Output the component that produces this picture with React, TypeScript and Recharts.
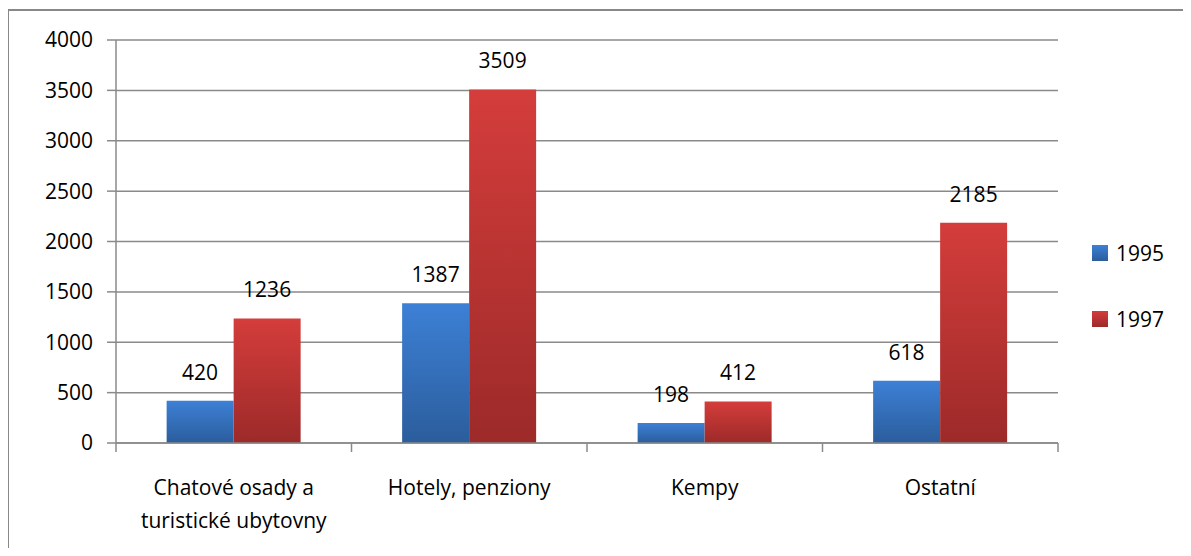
import { BarChart, Bar, XAxis, YAxis, CartesianGrid, Legend, LabelList } from "recharts";

const categories = ["Chatové osady a\nturistické ubytovny", "Hotely, penziony", "Kempy", "Ostatní"];
const values1995 = [420, 1387, 198, 618];
const values1997 = [1236, 3509, 412, 2185];
const yTicks = [0, 500, 1000, 1500, 2000, 2500, 3000, 3500, 4000];
const seriesNames = ["1995", "1997"];

const data = categories.map((name, i) => ({
  name,
  y1995: values1995[i],
  y1997: values1997[i],
}));

const W = 1175;
const H = 540;
const margin = { top: 32, right: 125, left: 0, bottom: 25 };
const Y_AXIS_W = 108;
const PLOT_W = W - margin.left - margin.right - Y_AXIS_W;
const FONT = "'Open Sans', sans-serif";
const GRID = "#8a8a8a";

const legendColors = [
  "linear-gradient(#3d80d6, #2b5d9c)",
  "linear-gradient(#d43d3b, #9c2a29)",
];

const CategoryTick = (props: any) => {
  const { x, y, payload, index } = props;
  const band = PLOT_W / categories.length;
  const lines = String(payload.value).split("\n");
  return (
    <g>
      {index === 0 && (
        <line x1={x - band / 2} x2={x - band / 2} y1={y} y2={y + 9} stroke={GRID} strokeWidth={1.5} />
      )}
      <line x1={x + band / 2} x2={x + band / 2} y1={y} y2={y + 9} stroke={GRID} strokeWidth={1.5} />
      {lines.map((l, i) => (
        <text
          key={i}
          x={x}
          y={y + 44 + i * 33}
          textAnchor="middle"
          dominantBaseline="central"
          fontSize={21}
          fontFamily={FONT}
          fill="#000"
        >
          {l}
        </text>
      ))}
    </g>
  );
};

const LegendBox = () => (
  <div style={{ fontFamily: FONT, fontSize: 21, color: "#000" }}>
    {seriesNames.map((s, i) => (
      <div key={s} style={{ display: "flex", alignItems: "center", height: 16, marginBottom: i === 0 ? 50 : 0 }}>
        <div style={{ width: 16, height: 16, background: legendColors[i], marginRight: 8 }} />
        <span style={{ lineHeight: "16px" }}>{s}</span>
      </div>
    ))}
  </div>
);

export default function App() {
  return (
    <div style={{ position: "relative", width: W, height: H, background: "#fff" }}>
      <div
        style={{
          position: "absolute",
          left: -1,
          top: 1,
          width: 1184,
          height: 546,
          borderLeft: "2px solid #888",
          borderTop: "2px solid #888",
          boxSizing: "border-box",
        }}
      />
      <BarChart
        width={W}
        height={H}
        data={data}
        margin={margin}
        barCategoryGap="21.5%"
        barGap={0}
        style={{ position: "absolute", left: 0, top: 0 }}
      >
        <defs>
          <linearGradient id="gBlue" x1="0" y1="0" x2="0" y2="1">
            <stop offset="0%" stopColor="#3d80d6" />
            <stop offset="100%" stopColor="#2b5d9c" />
          </linearGradient>
          <linearGradient id="gRed" x1="0" y1="0" x2="0" y2="1">
            <stop offset="0%" stopColor="#d43d3b" />
            <stop offset="100%" stopColor="#9c2a29" />
          </linearGradient>
        </defs>
        <CartesianGrid vertical={false} stroke={GRID} strokeWidth={1.5} />
        <XAxis
          dataKey="name"
          interval={0}
          height={80}
          tickSize={0}
          tickMargin={0}
          axisLine={{ stroke: GRID, strokeWidth: 1.5 }}
          tickLine={false}
          tick={<CategoryTick />}
        />
        <YAxis
          width={Y_AXIS_W}
          domain={[0, 4000]}
          ticks={yTicks}
          interval={0}
          tickSize={9}
          tickMargin={14}
          axisLine={{ stroke: GRID, strokeWidth: 1.5 }}
          tickLine={{ stroke: GRID, strokeWidth: 1.5 }}
          tick={{ fill: "#000", fontSize: 21, fontFamily: FONT }}
        />
        <Legend
          layout="vertical"
          align="center"
          verticalAlign="middle"
          content={<LegendBox />}
          wrapperStyle={{ position: "absolute", left: 1084, top: 237, width: 90 }}
        />
        <Bar dataKey="y1995" name={seriesNames[0]} fill="url(#gBlue)" isAnimationActive={false}>
          <LabelList dataKey="y1995" position="top" offset={21} fill="#000" fontSize={21} fontFamily={FONT} />
        </Bar>
        <Bar dataKey="y1997" name={seriesNames[1]} fill="url(#gRed)" isAnimationActive={false}>
          <LabelList dataKey="y1997" position="top" offset={21} fill="#000" fontSize={21} fontFamily={FONT} />
        </Bar>
      </BarChart>
    </div>
  );
}
